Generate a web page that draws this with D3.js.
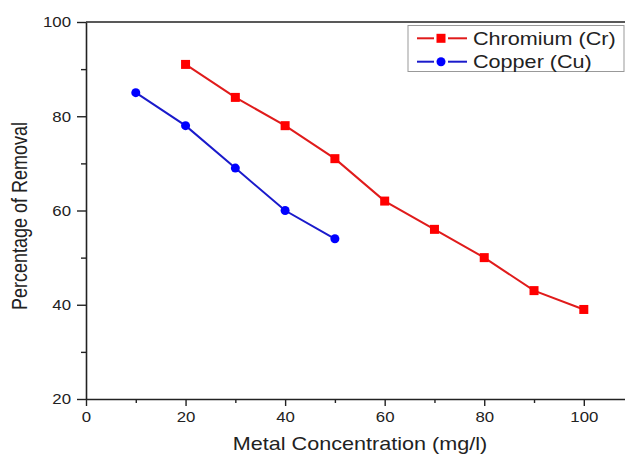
<!DOCTYPE html>
<html><head><meta charset="utf-8">
<script src="https://cdn.jsdelivr.net/npm/d3@7"></script>
<style>
html,body{margin:0;padding:0;background:#fff;}
svg{display:block;}
text{font-family:"Liberation Sans",Arial,sans-serif;fill:#222;}
</style></head>
<body>
<svg id="chart" width="625" height="454"></svg>
<script>
const crX = [20,30,40,50,60,70,80,90,100];
const crY = [91,84,78,71,62,56,50,43,39];
const cuX = [10,20,30,40,50];
const cuY = [85,78,69,60,54];
const xTicks = [0,20,40,60,80,100];
const yTicks = [20,40,60,80,100];
const xMinor = [10,30,50,70,90];
const yMinor = [30,50,70,90];
const seriesNames = ["Chromium (Cr)","Copper (Cu)"];

const SX = 1.2; // horizontal stretch of the original picture
const svg = d3.select("#chart");
const x = d3.scaleLinear().domain([0,110]).range([86, 86+110*4.978]);
const y = d3.scaleLinear().domain([20,100]).range([399,22]);

// minor ticks
svg.append("g").attr("transform","translate(0,399)")
  .call(d3.axisBottom(x).tickValues(xMinor).tickSize(4).tickFormat(""))
  .call(g=>g.select(".domain").remove())
  .call(g=>g.selectAll("line").attr("stroke","#222").attr("stroke-width",1.4));
svg.append("g").attr("transform","translate(86,0)")
  .call(d3.axisLeft(y).tickValues(yMinor).tickSize(5).tickFormat(""))
  .call(g=>g.select(".domain").remove())
  .call(g=>g.selectAll("line").attr("stroke","#222").attr("stroke-width",1.4));

// major axes
const gx = svg.append("g").attr("transform","translate(0,399)")
  .call(d3.axisBottom(x).tickValues(xTicks).tickSize(7).tickSizeOuter(0));
gx.select(".domain").attr("stroke","#222").attr("stroke-width",1.6);
gx.selectAll("line").attr("stroke","#222").attr("stroke-width",1.4);
gx.selectAll("text").attr("font-size",14).attr("y",13).attr("dy","0.71em")
  .attr("transform",`scale(${SX},1)`).style("font-family","'Liberation Sans',Arial,sans-serif").attr("fill","#222");

const gy = svg.append("g").attr("transform","translate(86,0)")
  .call(d3.axisLeft(y).tickValues(yTicks).tickSize(9).tickSizeOuter(0));
gy.select(".domain").attr("stroke","#222").attr("stroke-width",1.6);
gy.selectAll("line").attr("stroke","#222").attr("stroke-width",1.4);
gy.selectAll("text").attr("font-size",14).attr("x",-15/SX).attr("dy","0.34em")
  .attr("transform",`scale(${SX},1)`).style("font-family","'Liberation Sans',Arial,sans-serif").attr("fill","#222");

// top frame line
svg.append("line").attr("x1",x(0)).attr("x2",625).attr("y1",y(100)).attr("y2",y(100))
  .attr("stroke","#222").attr("stroke-width",1.6);

// axis titles
svg.append("g").attr("transform",`translate(360,449.5) scale(${SX},1)`)
  .append("text").attr("text-anchor","middle").attr("font-size",18)
  .text("Metal Concentration (mg/l)");
svg.append("g").attr("transform",`translate(27,216) scale(${SX},1) rotate(-90)`)
  .append("text").attr("text-anchor","middle").attr("font-size",18)
  .text("Percentage of Removal");

const line = d3.line().x(d=>x(d[0])).y(d=>y(d[1]));
const cr = crX.map((v,i)=>[v,crY[i]]);
const cu = cuX.map((v,i)=>[v,cuY[i]]);
const crLine="#e01b1b", crMark="#ff0000", cuLine="#1a1acb", cuMark="#0000ff";

svg.append("path").datum(cr).attr("d",line).attr("fill","none").attr("stroke",crLine).attr("stroke-width",2);
svg.selectAll(".crm").data(cr).enter().append("rect")
  .attr("x",d=>x(d[0])-4.5).attr("y",d=>y(d[1])-4.5).attr("width",9).attr("height",9).attr("fill",crMark);
svg.append("path").datum(cu).attr("d",line).attr("fill","none").attr("stroke",cuLine).attr("stroke-width",2);
svg.selectAll(".cum").data(cu).enter().append("circle")
  .attr("cx",d=>x(d[0])).attr("cy",d=>y(d[1])).attr("r",4.5).attr("fill",cuMark);

// legend
const lg = svg.append("g");
lg.append("rect").attr("x",408).attr("y",25.5).attr("width",216).attr("height",46)
  .attr("fill","#fff").attr("stroke","#999").attr("stroke-width",1);
const rows=[{name:seriesNames[0],line:crLine,mark:crMark,shape:"sq",cy:38.3,by:45},
            {name:seriesNames[1],line:cuLine,mark:cuMark,shape:"ci",cy:61.7,by:68.3}];
rows.forEach(r=>{
  [[417,434],[448,467]].forEach(s=>lg.append("line").attr("x1",s[0]).attr("x2",s[1]).attr("y1",r.cy).attr("y2",r.cy)
    .attr("stroke",r.line).attr("stroke-width",2));
  if(r.shape==="sq") lg.append("rect").attr("x",441-4.5).attr("y",r.cy-4.5).attr("width",9).attr("height",9).attr("fill",r.mark);
  else lg.append("circle").attr("cx",441).attr("cy",r.cy).attr("r",4.5).attr("fill",r.mark);
  lg.append("g").attr("transform",`translate(473,${r.by}) scale(${SX},1)`)
    .append("text").attr("font-size",18).text(r.name);
});
</script>
</body></html>
